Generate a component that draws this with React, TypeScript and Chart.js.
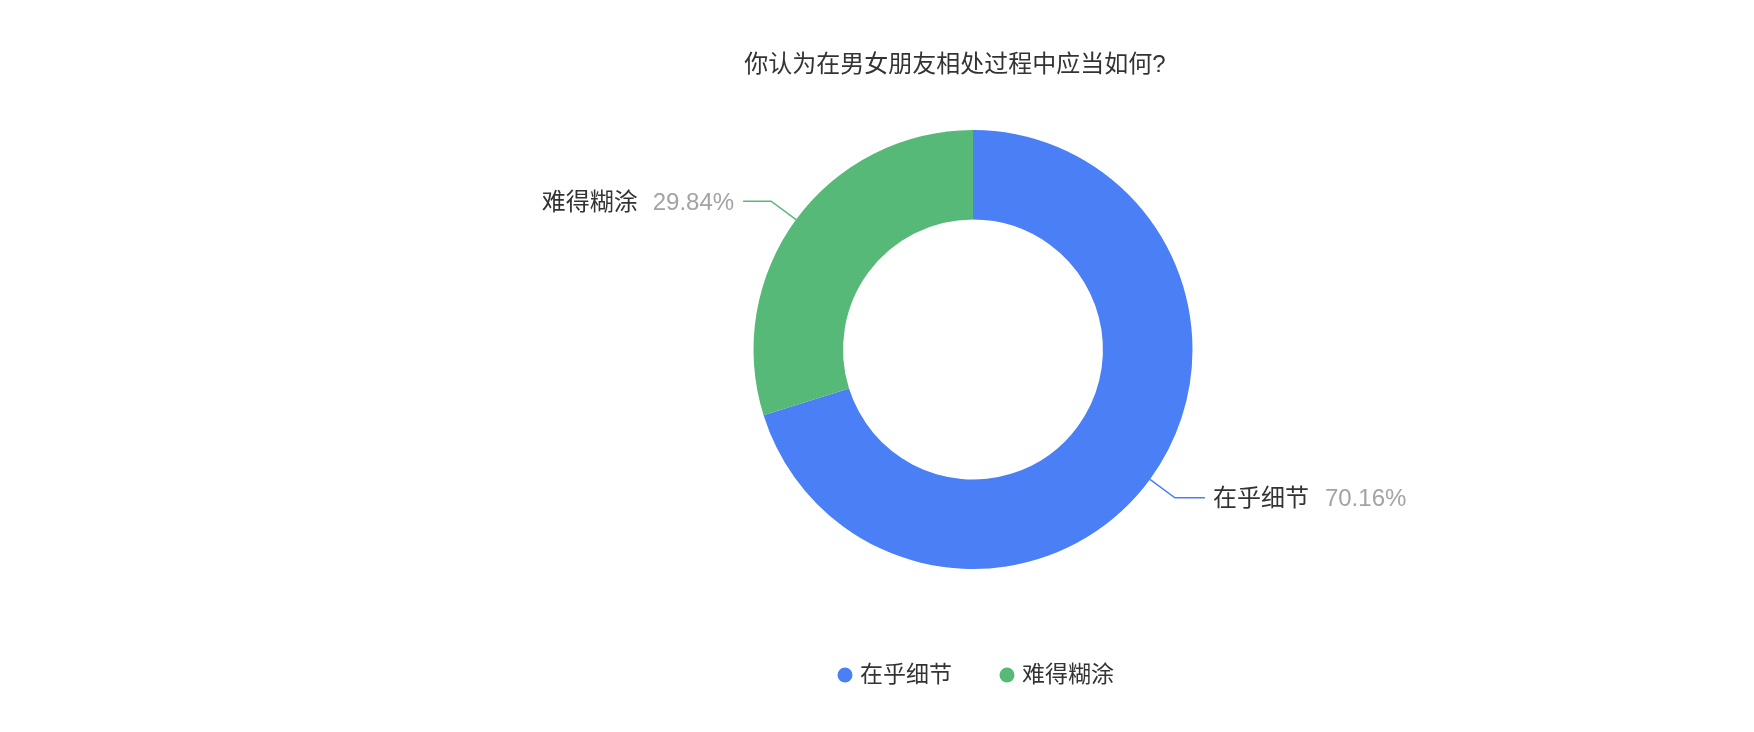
import { useEffect, useRef } from 'react';
import { Chart, registerables } from 'chart.js';

Chart.register(...registerables);

// Chart data
const chartTitle = '你认为在男女朋友相处过程中应当如何?';
const categories = ['在乎细节', '难得糊涂'];
const shares = [70.16, 29.84];
const sliceColors = ['#4a7ff5', '#56b977'];

const FONT = '"Helvetica Neue", Arial, "Liberation Sans", "Noto Sans CJK SC", sans-serif';

// Draws the title, the outside labels with leader lines and the legend
const decorPlugin = {
    id: 'decor',
    afterDraw(chart: any) {
        const ctx = chart.ctx as CanvasRenderingContext2D;
        const meta = chart.getDatasetMeta(0);
        ctx.save();

        // title
        ctx.font = `24px ${FONT}`;
        ctx.fillStyle = '#333';
        ctx.textAlign = 'center';
        ctx.textBaseline = 'middle';
        ctx.fillText(chartTitle, 955, 65);

        // outside labels
        meta.data.forEach((arc: any, i: number) => {
            const { x, y, startAngle, endAngle, outerRadius } = arc.getProps(
                ['x', 'y', 'startAngle', 'endAngle', 'outerRadius'], true);
            const mid = (startAngle + endAngle) / 2;
            const cos = Math.cos(mid);
            const sin = Math.sin(mid);
            const right = cos >= 0;
            const x0 = x + cos * outerRadius;
            const y0 = y + sin * outerRadius;
            const x1 = x + cos * (outerRadius + 31);
            const y1 = y + sin * (outerRadius + 31);
            const x2 = x1 + (right ? 30 : -28);

            ctx.strokeStyle = sliceColors[i];
            ctx.lineWidth = 1.5;
            ctx.beginPath();
            ctx.moveTo(x0, y0);
            ctx.lineTo(x1, y1);
            ctx.lineTo(x2, y1);
            ctx.stroke();

            const pct = shares[i].toFixed(2) + '%';
            const ty = y1 + 2;
            ctx.font = `24px ${FONT}`;
            ctx.textBaseline = 'middle';
            if (right) {
                ctx.textAlign = 'left';
                ctx.fillStyle = '#333';
                ctx.fillText(categories[i], x2 + 8, ty);
                const w = ctx.measureText(categories[i]).width;
                ctx.fillStyle = '#a3a3a3';
                ctx.fillText(pct, x2 + 8 + w + 16, ty);
            } else {
                ctx.textAlign = 'right';
                ctx.fillStyle = '#a3a3a3';
                ctx.fillText(pct, x2 - 9, ty);
                const w = ctx.measureText(pct).width;
                ctx.fillStyle = '#333';
                ctx.fillText(categories[i], x2 - 9 - w - 15, ty);
            }
        });

        // legend
        ctx.font = `23px ${FONT}`;
        ctx.textAlign = 'left';
        ctx.textBaseline = 'middle';
        const legendY = 675;
        const itemWidths = categories.map(c => 22 + ctx.measureText(c).width);
        const gap = 48;
        const total = itemWidths.reduce((a, b) => a + b, 0) + gap * (categories.length - 1);
        let lx = 976 - total / 2;
        categories.forEach((c, i) => {
            ctx.fillStyle = sliceColors[i];
            ctx.beginPath();
            ctx.arc(lx + 7, legendY, 7.5, 0, Math.PI * 2);
            ctx.fill();
            ctx.fillStyle = '#333';
            ctx.fillText(c, lx + 22, legendY + 1);
            lx += itemWidths[i] + gap;
        });

        ctx.restore();
    }
};

const App = () => {
    const canvasRef = useRef<HTMLCanvasElement>(null);
    const chartRef = useRef<Chart | null>(null);

    useEffect(() => {
        document.body.style.margin = '0';
        if (!canvasRef.current) return;
        const ctx = canvasRef.current.getContext('2d');
        if (!ctx) return;

        if (chartRef.current) chartRef.current.destroy();

        chartRef.current = new Chart(ctx, {
            type: 'doughnut',
            data: {
                labels: categories,
                datasets: [{
                    data: shares,
                    backgroundColor: sliceColors,
                    borderWidth: 0,
                    radius: 219.5,
                    cutout: '59.2%',
                } as any]
            },
            options: {
                responsive: false,
                devicePixelRatio: 1,
                animation: false,
                events: [],
                layout: { padding: { left: 192, right: 0, top: 0, bottom: 33 } },
                plugins: {
                    legend: { display: false },
                    title: { display: false },
                    tooltip: { enabled: false },
                }
            },
            plugins: [decorPlugin]
        });

        return () => {
            if (chartRef.current) {
                chartRef.current.destroy();
                chartRef.current = null;
            }
        };
    }, []);

    return (
        <div style={{ width: 1754, height: 732, background: '#fff' }}>
            <canvas ref={canvasRef} width={1754} height={732}></canvas>
        </div>
    );
};

export default App;
